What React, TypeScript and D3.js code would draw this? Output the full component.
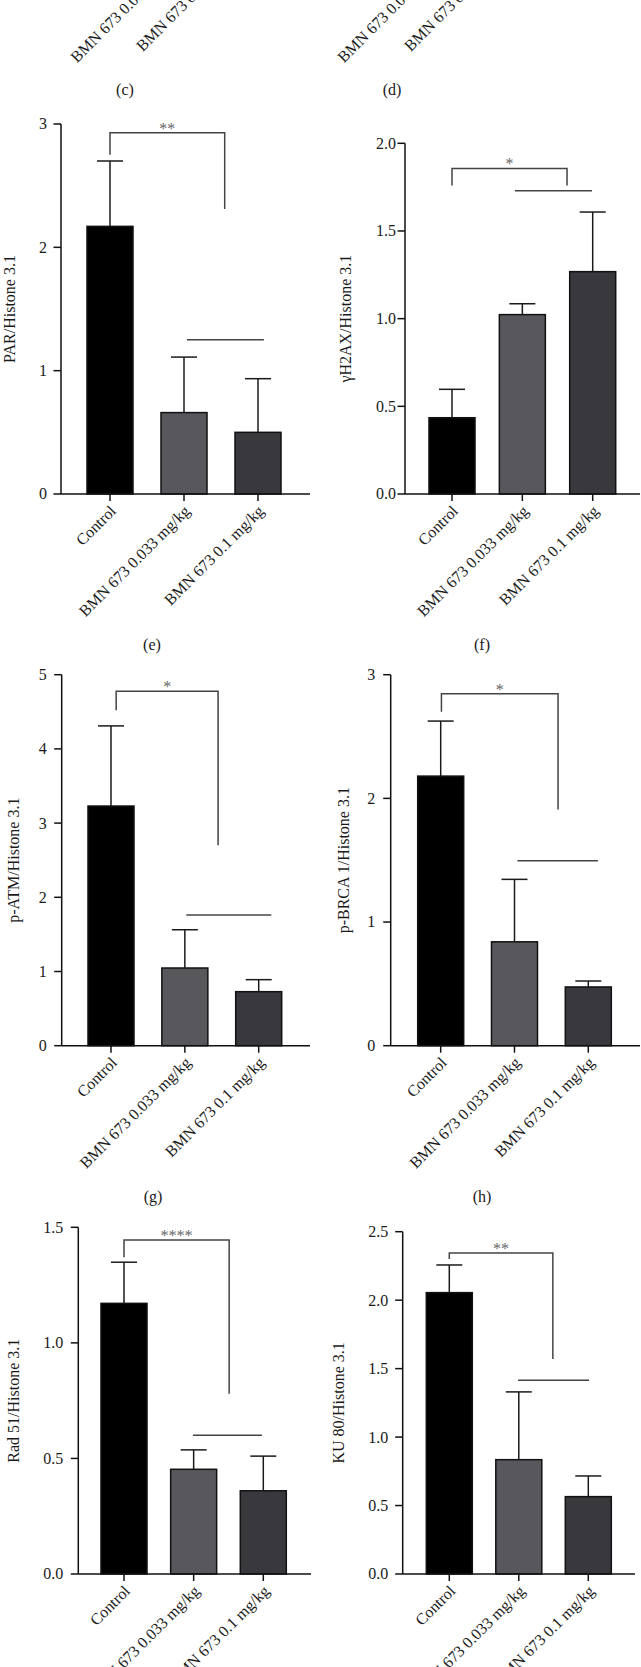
import React from "react";
import * as d3 from "d3";

// categories shared by every panel
const CATEGORIES = ["Control", "BMN 673 0.033 mg/kg", "BMN 673 0.1 mg/kg"];

// (e) PAR
const PAR_MEAN = [2.17, 0.66, 0.5];
const PAR_SD = [0.53, 0.45, 0.435];
// (f) gamma H2AX
const H2AX_MEAN = [0.435, 1.023, 1.268];
const H2AX_SD = [0.162, 0.062, 0.34];
// (g) p-ATM
const ATM_MEAN = [3.23, 1.047, 0.728];
const ATM_SD = [1.08, 0.516, 0.162];
// (h) p-BRCA 1
const BRCA_MEAN = [2.18, 0.84, 0.475];
const BRCA_SD = [0.445, 0.505, 0.048];
// Rad 51
const RAD_MEAN = [1.171, 0.453, 0.36];
const RAD_SD = [0.178, 0.084, 0.15];
// KU 80
const KU_MEAN = [2.055, 0.835, 0.565];
const KU_SD = [0.202, 0.495, 0.151];

const Y_LABELS = [
  "PAR/Histone 3.1",
  "γH2AX/Histone 3.1",
  "p-ATM/Histone 3.1",
  "p-BRCA 1/Histone 3.1",
  "Rad 51/Histone 3.1",
  "KU 80/Histone 3.1",
];
const STARS = ["**", "*", "*", "*", "****", "**"];
const CAPTIONS = ["(c)", "(d)", "(e)", "(f)", "(g)", "(h)"];

const BAR_COLORS = ["#000000", "#58585c", "#39393d"];
const FONT = "'Liberation Serif', 'Times New Roman', serif";
const FS = 16;

// layout of each panel (pixels) plus the annotation geometry (in data units / category index)
const LAYOUTS = [
  { axisX: 61, y0: 494, yTop: 124, yMax: 3, step: 1, fmt: "d", c0: 110, c2: 258, axisEnd: 310, labelGap: 14, ylabelX: 15,
    br: { l: 0, r: 1.55, top: 2.93, lEnd: 2.75, rEnd: 2.31 }, ln: { a: 1.04, b: 2.08, v: 1.25 } },
  { axisX: 405, y0: 494, yTop: 143.3, yMax: 2, step: 0.5, fmt: ".1f", c0: 452, c2: 592.7, axisEnd: 640, labelGap: 9, ylabelX: 351,
    br: { l: 0, r: 1.635, top: 1.857, lEnd: 1.759, rEnd: 1.759 }, ln: { a: 0.895, b: 1.99, v: 1.73 } },
  { axisX: 61.7, y0: 1045.7, yTop: 674.7, yMax: 5, step: 1, fmt: "d", c0: 111, c2: 258.7, axisEnd: 310, labelGap: 15, ylabelX: 19,
    br: { l: 0.07, r: 1.45, top: 4.776, lEnd: 4.52, rEnd: 2.7 }, ln: { a: 1.02, b: 2.17, v: 1.76 } },
  { axisX: 390.7, y0: 1045.7, yTop: 674.7, yMax: 3, step: 1, fmt: "d", c0: 440.7, c2: 588.3, axisEnd: 640, labelGap: 15.5, ylabelX: 349,
    br: { l: 0.01, r: 1.59, top: 2.846, lEnd: 2.7, rEnd: 1.91 }, ln: { a: 1.04, b: 2.13, v: 1.495 } },
  { axisX: 78.3, y0: 1574, yTop: 1227.3, yMax: 1.5, step: 0.5, fmt: ".1f", c0: 124, c2: 263.3, axisEnd: 311, labelGap: 15, ylabelX: 19,
    br: { l: 0, r: 1.51, top: 1.445, lEnd: 1.37, rEnd: 0.78 }, ln: { a: 0.99, b: 1.98, v: 0.6 } },
  { axisX: 402.7, y0: 1574, yTop: 1231.7, yMax: 2.5, step: 0.5, fmt: ".1f", c0: 449.3, c2: 588.3, axisEnd: 635, labelGap: 14.5, ylabelX: 344,
    br: { l: 0, r: 1.49, top: 2.345, lEnd: 2.3, rEnd: 1.57 }, ln: { a: 0.99, b: 2.01, v: 1.415 } },
];

// panels (c) and (d): only the bottom of their x labels shows at the top edge
const CLIPPED = [
  { y0: -60, c0: 121, c2: 230 },
  { y0: -60, c0: 387, c2: 498 },
];

const CAPTION_POS = [
  [125, 95], [392, 95], [152, 650], [482, 650], [153, 1202], [482, 1202],
];

function XLabels({ x, y0 }: { x: d3.ScalePoint<string>; y0: number }) {
  return (
    <g>
      {CATEGORIES.map((c) => (
        <g key={c} transform={`translate(${x(c)},${y0})`}>
          <line y1={0} y2={7} stroke="#111" strokeWidth={1.5} />
          <text
            transform="translate(7,18) rotate(-45)"
            textAnchor="end"
            fontFamily={FONT}
            fontSize={FS}
            fill="#1a1a1a"
          >
            {c}
          </text>
        </g>
      ))}
    </g>
  );
}

function BarPanel({ lay, mean, sd, ylabel, stars }: any) {
  const y = d3.scaleLinear().domain([0, lay.yMax]).range([lay.y0, lay.yTop]);
  const x = d3.scalePoint<string>().domain(CATEGORIES).range([lay.c0, lay.c2]);
  const xi = d3.scaleLinear().domain([0, 2]).range([lay.c0, lay.c2]);
  const ticks = d3.range(0, lay.yMax + 1e-9, lay.step);
  const fmt = d3.format(lay.fmt);
  const barW = 46;
  const capW = 13;
  const br = lay.br;
  const ln = lay.ln;
  return (
    <g>
      {/* bars */}
      {CATEGORIES.map((c, i) => (
        <rect
          key={c}
          x={(x(c) as number) - barW / 2}
          y={y(mean[i])}
          width={barW}
          height={y(0) - y(mean[i])}
          fill={BAR_COLORS[i]}
          stroke="#111"
          strokeWidth={1.5}
        />
      ))}
      {/* error bars (upper only) */}
      {CATEGORIES.map((c, i) => (
        <g key={c} stroke="#1a1a1a" strokeWidth={1.5}>
          <line x1={x(c)} x2={x(c)} y1={y(mean[i])} y2={y(mean[i] + sd[i])} />
          <line x1={(x(c) as number) - capW} x2={(x(c) as number) + capW} y1={y(mean[i] + sd[i])} y2={y(mean[i] + sd[i])} />
        </g>
      ))}
      {/* y axis */}
      <line x1={lay.axisX} x2={lay.axisX} y1={y(0)} y2={y(lay.yMax)} stroke="#111" strokeWidth={1.5} />
      {ticks.map((t: number) => (
        <g key={t}>
          <line x1={lay.axisX - 7.5} x2={lay.axisX} y1={y(t)} y2={y(t)} stroke="#111" strokeWidth={1.5} />
          <text
            x={lay.axisX - lay.labelGap}
            y={y(t)}
            dy="0.34em"
            textAnchor="end"
            fontFamily={FONT}
            fontSize={FS}
            fill="#1a1a1a"
          >
            {fmt(t)}
          </text>
        </g>
      ))}
      {/* x axis */}
      <line x1={lay.axisX} x2={lay.axisEnd} y1={y(0)} y2={y(0)} stroke="#111" strokeWidth={1.5} />
      <XLabels x={x} y0={lay.y0} />
      {/* y label */}
      <text
        transform={`translate(${lay.ylabelX},${(y(0) + y(lay.yMax)) / 2}) rotate(-90)`}
        textAnchor="middle"
        fontFamily={FONT}
        fontSize={FS}
        fill="#1a1a1a"
      >
        {ylabel}
      </text>
      {/* significance bracket */}
      <path
        d={`M${xi(br.l)},${y(br.lEnd)}V${y(br.top)}H${xi(br.r)}V${y(br.rEnd)}`}
        fill="none"
        stroke="#444"
        strokeWidth={1.5}
      />
      <text
        x={(xi(br.l) + xi(br.r)) / 2}
        y={y(br.top) + 1}
        textAnchor="middle"
        fontFamily={FONT}
        fontSize={FS}
        fill="#666"
      >
        {stars}
      </text>
      <line x1={xi(ln.a)} x2={xi(ln.b)} y1={y(ln.v)} y2={y(ln.v)} stroke="#444" strokeWidth={1.5} />
    </g>
  );
}

export default function App() {
  const means = [PAR_MEAN, H2AX_MEAN, ATM_MEAN, BRCA_MEAN, RAD_MEAN, KU_MEAN];
  const sds = [PAR_SD, H2AX_SD, ATM_SD, BRCA_SD, RAD_SD, KU_SD];
  return (
    <div style={{ position: "absolute", left: 0, top: 0 }}>
      <svg width={641} height={1667} style={{ display: "block", background: "#fff" }}>
        {CLIPPED.map((p, k) => (
          <XLabels key={k} x={d3.scalePoint<string>().domain(CATEGORIES).range([p.c0, p.c2])} y0={p.y0} />
        ))}
        {LAYOUTS.map((lay, k) => (
          <BarPanel key={k} lay={lay} mean={means[k]} sd={sds[k]} ylabel={Y_LABELS[k]} stars={STARS[k]} />
        ))}
        {CAPTIONS.map((c, k) => (
          <text
            key={c}
            x={CAPTION_POS[k][0]}
            y={CAPTION_POS[k][1]}
            textAnchor="middle"
            fontFamily={FONT}
            fontSize={FS}
            fill="#1a1a1a"
          >
            {c}
          </text>
        ))}
      </svg>
    </div>
  );
}
